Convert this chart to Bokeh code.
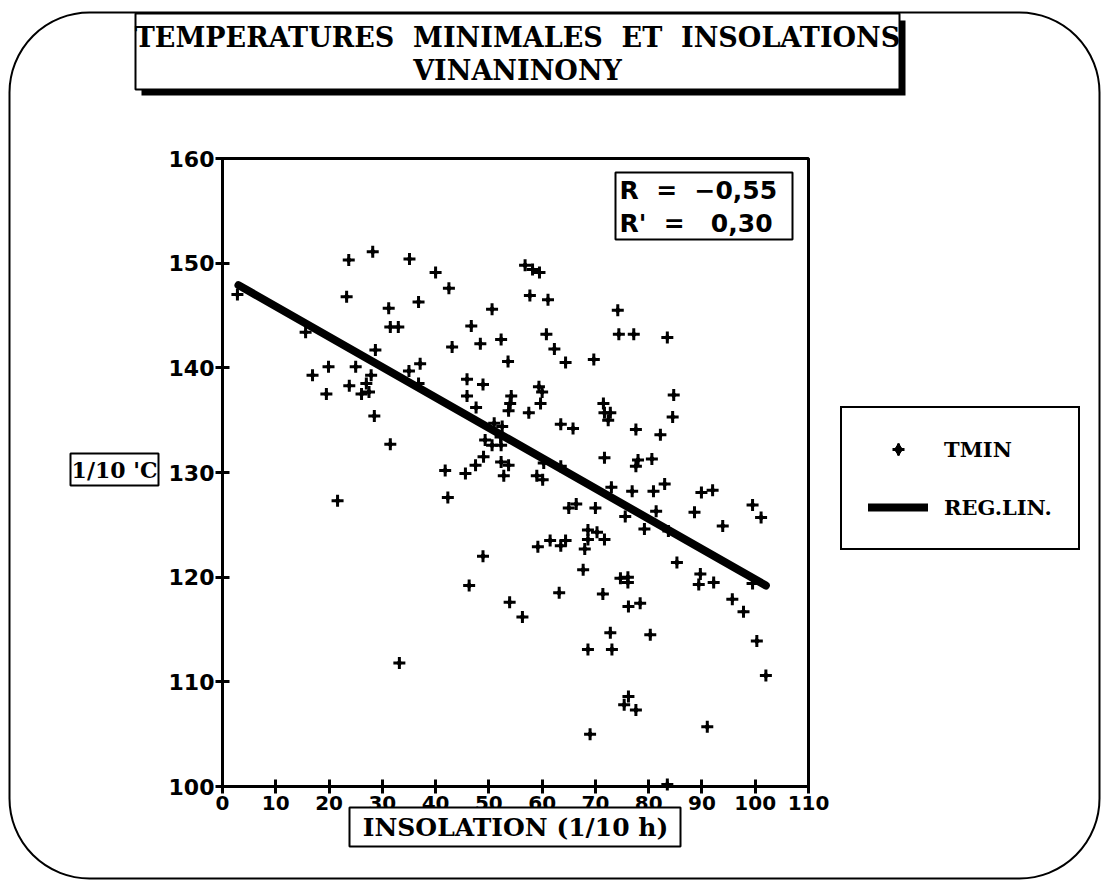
from bokeh.plotting import figure
from bokeh.models import Range1d, Label, BoxAnnotation, Legend, LegendItem, FixedTicker
from bokeh.embed import file_html
from bokeh.resources import INLINE

# ---- data ----
insolation = [2.8, 23.7, 28.2, 35.1, 23.3, 31.2, 31.5, 33.0, 15.6, 28.7,
              35.0, 19.9, 25.0, 16.9, 27.9, 23.8, 27.0, 27.5, 26.1, 19.5,
              28.5, 31.5, 36.8, 40.0, 42.5, 56.8, 58.2, 59.5, 57.7, 61.1,
              50.6, 46.7, 43.1, 48.4, 52.3, 60.8, 62.3, 64.4, 69.7, 37.1,
              53.6, 45.9, 48.9, 59.4, 60.0, 45.9, 47.6, 54.2, 54.0, 53.7,
              59.7, 57.5, 71.5, 71.7, 72.8, 72.4, 63.5, 65.8, 51.0, 52.5,
              49.3, 50.6, 52.2, 52.3, 49.0, 47.5, 45.6, 41.8, 52.3, 53.7,
              52.8, 60.3, 59.0, 60.1, 63.5, 71.7, 73.0, 42.3, 65.0, 66.4,
              70.0, 68.6, 70.3, 68.6, 71.7, 68.0, 61.5, 63.5, 64.4, 59.2,
              48.9, 67.7, 46.3, 63.2, 71.4, 53.9, 56.3, 74.2, 74.4, 77.2,
              83.5, 84.7, 84.5, 77.6, 82.2, 78.0, 77.6, 80.6, 76.9, 80.9,
              83.0, 89.9, 92.0, 99.5, 101.1, 88.6, 93.9, 81.4, 75.6, 79.2,
              83.7, 85.3, 89.7, 89.4, 92.2, 99.5, 74.7, 76.1, 76.1, 76.2,
              78.4, 95.7, 97.8, 80.3, 100.3, 102.0, 76.2, 75.4, 77.6, 91.0,
              83.5, 72.8, 68.6, 73.1, 69.0, 33.2, 21.6, 36.8]
tmin = [147.0, 150.3, 151.1, 150.4, 146.8, 145.7, 143.9, 143.9, 143.4, 141.7,
        139.7, 140.1, 140.1, 139.3, 139.3, 138.3, 138.5, 137.7, 137.5, 137.5,
        135.4, 132.7, 146.3, 149.1, 147.6, 149.8, 149.4, 149.1, 146.9, 146.5,
        145.6, 144.0, 142.0, 142.3, 142.7, 143.2, 141.8, 140.5, 140.8, 140.4,
        140.6, 138.9, 138.4, 138.2, 137.7, 137.3, 136.2, 137.3, 136.6, 135.9,
        136.6, 135.7, 136.6, 135.7, 135.7, 135.0, 134.6, 134.2, 134.7, 134.4,
        133.1, 132.6, 133.4, 132.6, 131.5, 130.7, 129.9, 130.2, 131.0, 130.7,
        129.7, 130.9, 129.7, 129.3, 130.6, 131.4, 128.6, 127.6, 126.6, 127.0,
        126.6, 124.5, 124.3, 123.6, 123.6, 122.7, 123.5, 123.0, 123.5, 122.9,
        122.0, 120.7, 119.2, 118.5, 118.4, 117.6, 116.2, 145.5, 143.2, 143.2,
        142.9, 137.4, 135.3, 134.1, 133.6, 131.2, 130.6, 131.3, 128.2, 128.2,
        128.9, 128.1, 128.3, 126.9, 125.7, 126.2, 124.9, 126.3, 125.8, 124.6,
        124.4, 121.4, 120.3, 119.3, 119.5, 119.4, 119.9, 120.0, 119.5, 117.2,
        117.5, 117.9, 116.7, 114.5, 113.9, 110.6, 108.6, 107.8, 107.3, 105.7,
        100.2, 114.7, 113.1, 113.1, 105.0, 111.8, 127.3, 138.5]
reg_x = [3.0, 102.0]
reg_y = [147.9, 119.2]
x_ticks = [0, 10, 20, 30, 40, 50, 60, 70, 80, 90, 100, 110]
y_ticks = [100, 110, 120, 130, 140, 150, 160]

NB = "\u00a0"
title_lines = ["TEMPERATURES" + NB * 2 + "MINIMALES" + NB * 2 + "ET" + NB * 2 + "INSOLATIONS", "VINANINONY"]
stats_lines = ["R" + NB * 2 + "=" + NB * 2 + "\u22120,55", "R'" + NB * 2 + "=" + NB * 2 + NB + "0,30"]
x_label = "INSOLATION (1/10 h)"
y_label = "1/10 'C"
series_names = ["TMIN", "REG.LIN."]

# ---- layout: the frame covers the whole canvas; the plot box is drawn inside it ----
W, H = 1107, 886
FL, FR, FT, FB = 222, 808, 158, 786     # pixel edges of the plot box
X0, X1, Y0, Y1 = 0, 110, 100, 160       # data limits of the plot box


def dx(px):
    return X0 + (px - FL) * (X1 - X0) / (FR - FL)


def dy(py):
    return Y0 + (FB - py) * (Y1 - Y0) / (FB - FT)


SERIF = "DejaVu Serif"
SANS = "DejaVu Sans"

p = figure(width=W, height=H, output_backend="svg", toolbar_location=None,
           x_range=Range1d(dx(0), dx(W)), y_range=Range1d(dy(H), dy(0)),
           min_border=0)
p.background_fill_color = "white"
p.border_fill_color = "white"
p.outline_line_color = None
p.grid.visible = False

p.xaxis.fixed_location = Y0
p.yaxis.fixed_location = X0
p.xaxis.bounds = (X0, X1)
p.yaxis.bounds = (Y0, Y1)
for ax in (p.xaxis[0], p.yaxis[0]):
    ax.axis_line_width = 3
    ax.axis_line_color = "black"
    ax.major_tick_line_width = 3
    ax.major_tick_line_color = "black"
    ax.major_tick_in = 7
    ax.major_tick_out = 7
    ax.minor_tick_line_color = None
    ax.major_label_text_font = SANS
    ax.major_label_text_font_style = "bold"
    ax.major_label_text_color = "black"
p.xaxis.ticker = FixedTicker(ticks=x_ticks)
p.yaxis.ticker = FixedTicker(ticks=y_ticks)
p.xaxis.major_label_text_font_size = "20px"
p.yaxis.major_label_text_font_size = "22px"
p.xaxis.major_label_standoff = 2
p.yaxis.major_label_standoff = 1

# plot box (top and right edges)
p.add_layout(BoxAnnotation(left=X0, right=X1, bottom=Y0, top=Y1, fill_alpha=0,
                           line_color="black", line_width=3, line_alpha=1, level="underlay"))

# scatter and regression line
r_cross = p.scatter(insolation, tmin, marker="cross", size=12, line_width=3, color="black")
r_dot = p.scatter(insolation, tmin, marker="diamond", size=7, fill_color="black",
                  line_color="black", line_width=1)
r_line = p.line(reg_x, reg_y, line_width=8, line_cap="round", color="black")

# legend
legend = Legend(items=[LegendItem(label=series_names[0], renderers=[r_cross, r_dot]),
                       LegendItem(label=series_names[1], renderers=[r_line])],
                location=(840, H - 550), margin=0, padding=26,
                glyph_width=60, glyph_height=30, label_height=30, spacing=28,
                label_standoff=16, label_text_font=SERIF, label_text_font_style="bold",
                label_text_font_size="21px", label_text_color="black",
                border_line_color="black", border_line_width=2, border_line_alpha=1,
                background_fill_color="white", background_fill_alpha=1)
p.add_layout(legend)

# outer rounded frame
p.add_layout(BoxAnnotation(left=dx(9), right=dx(1099), top=dy(12), bottom=dy(878),
                           fill_alpha=0, line_color="black", line_width=2, line_alpha=1,
                           border_radius=80, level="underlay"))

# title box with shadow
p.add_layout(BoxAnnotation(left=dx(141), right=dx(905), top=dy(20), bottom=dy(95),
                           fill_color="black", fill_alpha=1, line_color=None))
p.add_layout(BoxAnnotation(left=dx(135), right=dx(899), top=dy(13), bottom=dy(89),
                           fill_color="white", fill_alpha=1, line_color="black", line_width=2, line_alpha=1))
for txt, py in zip(title_lines, [37, 70]):
    p.add_layout(Label(x=dx(517), y=dy(py), text=txt, text_align="center", text_baseline="middle",
                       text_font=SERIF, text_font_style="bold", text_font_size="27px", text_color="black"))

# stats box
p.add_layout(BoxAnnotation(left=dx(615), right=dx(792), top=dy(172), bottom=dy(239),
                           fill_color="white", fill_alpha=1, line_color="black", line_width=2, line_alpha=1))
for txt, py in zip(stats_lines, [190, 223]):
    p.add_layout(Label(x=dx(619), y=dy(py), text=txt, text_align="left", text_baseline="middle",
                       text_font=SANS, text_font_style="bold", text_font_size="25px", text_color="black"))

# axis titles
p.add_layout(BoxAnnotation(left=dx(349), right=dx(680), top=dy(807), bottom=dy(846),
                           fill_color="white", fill_alpha=1, line_color="black", line_width=2, line_alpha=1))
p.add_layout(Label(x=dx(515), y=dy(827), text=x_label, text_align="center", text_baseline="middle",
                   text_font=SERIF, text_font_style="bold", text_font_size="25px", text_color="black"))
p.add_layout(BoxAnnotation(left=dx(70), right=dx(158), top=dy(453), bottom=dy(485),
                           fill_color="white", fill_alpha=1, line_color="black", line_width=2, line_alpha=1))
p.add_layout(Label(x=dx(114), y=dy(469), text=y_label, text_align="center", text_baseline="middle",
                   text_font=SERIF, text_font_style="bold", text_font_size="22px", text_color="black"))

open("out.html", "w").write(file_html(p, INLINE))
